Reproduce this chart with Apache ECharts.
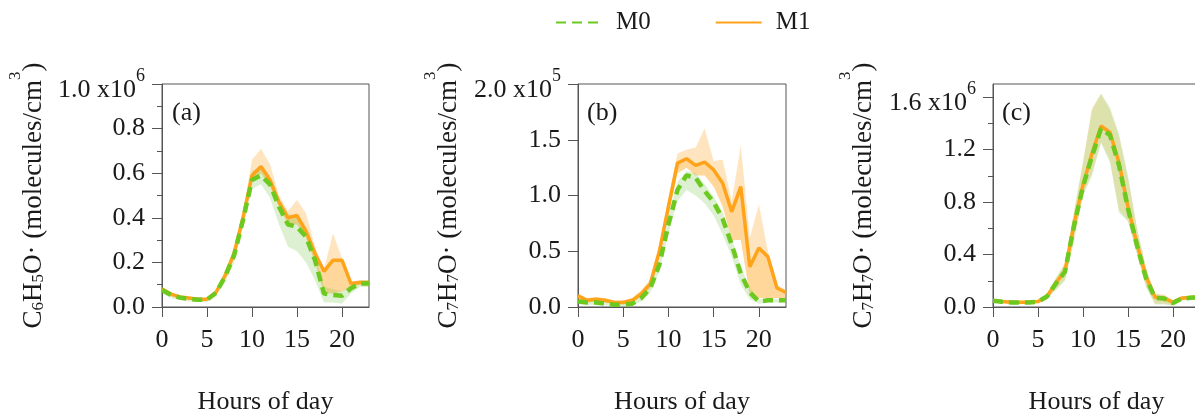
<!DOCTYPE html>
<html><head><meta charset="utf-8">
<script src="https://cdn.jsdelivr.net/npm/echarts@6/dist/echarts.min.js"></script>
<style>html,body{margin:0;padding:0;background:#fff}#c{width:1195px;height:417px}</style>
</head><body><div id="c"></div>
<script>
// ---------- data ----------
const hours = ['0','1','2','3','4','5','6','7','8','9','10','11','12','13','14','15','16','17','18','19','20','21','22','23'];
const seriesNames = ['M0', 'M1'];
const xTitle = 'Hours of day';

// (a) C6H5O·, units 1e6
const a_m0    = [0.076,0.054,0.042,0.036,0.032,0.032,0.064,0.136,0.23,0.39,0.57,0.59,0.55,0.45,0.37,0.36,0.315,0.21,0.06,0.054,0.05,0.084,0.105,0.105];
const a_m0_lo = [0.060,0.040,0.030,0.025,0.022,0.022,0.050,0.110,0.20,0.36,0.53,0.55,0.49,0.37,0.27,0.25,0.20,0.12,0.02,0.02,0.015,0.06,0.09,0.09];
const a_m0_hi = [0.090,0.065,0.050,0.045,0.040,0.040,0.075,0.160,0.25,0.41,0.61,0.63,0.58,0.48,0.42,0.40,0.34,0.24,0.09,0.08,0.07,0.10,0.12,0.12];
const a_m1    = [0.080,0.058,0.045,0.040,0.035,0.035,0.066,0.140,0.24,0.40,0.59,0.63,0.57,0.47,0.40,0.41,0.34,0.24,0.16,0.21,0.21,0.105,0.11,0.11];
const a_m1_lo = [0.070,0.050,0.040,0.035,0.030,0.030,0.060,0.130,0.22,0.38,0.56,0.60,0.54,0.45,0.37,0.37,0.31,0.20,0.06,0.06,0.07,0.09,0.10,0.10];
const a_m1_hi = [0.090,0.065,0.050,0.045,0.040,0.040,0.075,0.160,0.26,0.42,0.66,0.71,0.64,0.50,0.43,0.48,0.42,0.27,0.17,0.33,0.22,0.115,0.12,0.12];
const a_ticks = ['0.0','0.2','0.4','0.6','0.8','1.0'];
const a_minor = [0.1, 0.3, 0.5, 0.7, 0.9];

// (b) C7H7O·, units 1e5
const b_m0    = [0.05,0.04,0.04,0.03,0.02,0.02,0.03,0.08,0.17,0.38,0.74,1.05,1.18,1.16,1.04,0.94,0.79,0.56,0.30,0.13,0.05,0.06,0.06,0.06];
const b_m0_lo = [0.03,0.02,0.02,0.015,0.01,0.01,0.015,0.05,0.13,0.32,0.66,0.95,1.05,1.00,0.93,0.82,0.65,0.45,0.20,0.07,0.03,0.04,0.04,0.04];
const b_m0_hi = [0.07,0.06,0.06,0.05,0.035,0.035,0.045,0.10,0.20,0.42,0.80,1.12,1.22,1.20,1.10,0.99,0.85,0.62,0.36,0.17,0.07,0.07,0.07,0.07];
const b_m1    = [0.10,0.06,0.07,0.06,0.04,0.04,0.06,0.12,0.21,0.50,0.90,1.29,1.33,1.27,1.30,1.23,1.11,0.855,1.08,0.36,0.53,0.45,0.17,0.13];
const b_m1_lo = [0.07,0.04,0.05,0.04,0.03,0.03,0.04,0.09,0.17,0.44,0.82,1.20,1.25,1.18,1.18,1.08,0.90,0.60,0.60,0.10,0.08,0.08,0.08,0.08];
const b_m1_hi = [0.12,0.08,0.09,0.08,0.06,0.06,0.08,0.15,0.25,0.56,0.98,1.38,1.41,1.43,1.60,1.31,1.32,0.95,1.45,0.62,0.92,0.50,0.20,0.15];
const b_ticks = ['0.0','0.5','1.0','1.5','2.0'];

// (c) C7H7O·, units 1e6
const c_m0    = [0.048,0.040,0.035,0.035,0.035,0.040,0.080,0.180,0.27,0.62,0.92,1.15,1.36,1.31,1.08,0.75,0.47,0.22,0.070,0.065,0.030,0.065,0.070,0.075];
const c_m0_lo = [0.035,0.030,0.025,0.025,0.025,0.030,0.060,0.130,0.20,0.50,0.85,1.00,1.25,1.10,0.72,0.65,0.40,0.15,0.020,0.020,0.010,0.050,0.055,0.060];
const c_m0_hi = [0.060,0.050,0.045,0.045,0.045,0.050,0.100,0.220,0.33,0.72,1.10,1.50,1.63,1.52,1.32,1.00,0.60,0.30,0.100,0.090,0.050,0.080,0.085,0.090];
const c_m1    = [0.050,0.042,0.037,0.037,0.037,0.042,0.082,0.185,0.275,0.63,0.93,1.17,1.38,1.33,1.10,0.76,0.48,0.23,0.075,0.068,0.035,0.068,0.073,0.078];
const c_m1_lo = [0.037,0.032,0.027,0.027,0.027,0.032,0.062,0.135,0.21,0.52,0.86,1.02,1.26,1.12,0.74,0.66,0.41,0.16,0.025,0.025,0.015,0.052,0.057,0.062];
const c_m1_hi = [0.062,0.052,0.047,0.047,0.047,0.052,0.102,0.225,0.34,0.73,1.11,1.52,1.62,1.50,1.30,0.98,0.60,0.30,0.105,0.095,0.055,0.082,0.087,0.092];
const c_ticks = ['0.0','0.4','0.8','1.2','1.6'];
const c_minor = [0.2, 0.6, 1.0, 1.4];

// ---------- styles ----------
const FONT = "'Liberation Serif', 'Times New Roman', serif";
const TXT = '#1a1a1a';
const AX = '#555555';
const GREEN = '#6cc91f';
const ORANGE = '#ffa31a';
const GREEN_BAND = 'rgba(120,195,70,0.36)';
const ORANGE_LOW = 'rgba(255,163,26,0.62)';
const ORANGE_HIGH = 'rgba(255,163,26,0.40)';
const ORANGE_C = 'rgba(255,163,26,0.30)';
const TICK_FS = 26;

const panels = [
  { grid: {left:162, top:84, width:207, height:223}, max:1.0, ticks:a_ticks, exp:'6', minorVals:a_minor,
    m0:a_m0, m0lo:a_m0_lo, m0hi:a_m0_hi, m1:a_m1, m1lo:a_m1_lo, m1hi:a_m1_hi, lowColor:ORANGE_LOW, highColor:ORANGE_HIGH,
    sub1:'6', sub2:'5', tag:'(a)', titleX:34, tagX:172 },
  { grid: {left:578, top:84, width:208, height:223}, max:2.0, ticks:b_ticks, exp:'5', minorVals:null,
    m0:b_m0, m0lo:b_m0_lo, m0hi:b_m0_hi, m1:b_m1, m1lo:b_m1_lo, m1hi:b_m1_hi, lowColor:ORANGE_LOW, highColor:ORANGE_HIGH,
    sub1:'7', sub2:'7', tag:'(b)', titleX:449, tagX:587 },
  { grid: {left:993, top:84, width:207, height:223}, max:1.7, ticks:c_ticks, exp:'6', minorVals:c_minor,
    m0:c_m0, m0lo:c_m0_lo, m0hi:c_m0_hi, m1:c_m1, m1lo:c_m1_lo, m1hi:c_m1_hi, lowColor:ORANGE_C, highColor:ORANGE_C,
    sub1:'7', sub2:'7', tag:'(c)', titleX:864, tagX:1002 }
];

const grids = [], xAxes = [], yAxes = [], series = [], graphics = [];
const diff = (a, b) => a.map((v, i) => Math.max(0, v - b[i]));

panels.forEach((p, gi) => {
  grids.push(Object.assign({show:true, borderColor:AX, borderWidth:1, backgroundColor:'transparent',
    containLabel:false, outerBoundsMode:'none'}, p.grid));
  xAxes.push({
    type:'category', gridIndex:gi, data:hours, boundaryGap:false,
    axisLine:{show:true, lineStyle:{color:AX, width:1}},
    axisTick:{show:true, interval:4, length:10, lineStyle:{color:AX}},
    axisLabel:{interval:4, margin:20, fontSize:TICK_FS, fontFamily:FONT, color:TXT},
    splitLine:{show:false},
    name:xTitle, nameLocation:'middle', nameGap:82,
    nameTextStyle:{fontSize:26, fontFamily:FONT, color:TXT}
  });
  const tickVals = p.ticks.map(t => parseFloat(t));
  const yIdx = yAxes.length;
  yAxes.push({
    type:'value', gridIndex:gi, min:0, max:p.max,
    axisLine:{show:true, lineStyle:{color:AX, width:1}},
    axisTick:{show:true, length:10, customValues:tickVals, lineStyle:{color:AX}},
    splitLine:{show:false},
    axisLabel:{
      customValues:tickVals,
      margin:17, fontSize:TICK_FS, fontFamily:FONT, color:TXT,
      formatter:(v) => {
        const i = tickVals.findIndex(t => Math.abs(t - v) < 1e-9);
        if (i < 0) return '';
        if (i === tickVals.length - 1) return '{m|' + p.ticks[i] + ' x10}{s|' + p.exp + '}';
        return p.ticks[i];
      },
      rich:{
        m:{fontSize:TICK_FS, fontFamily:FONT, color:TXT, padding:[12,0,0,0]},
        s:{fontSize:18, fontFamily:FONT, color:TXT, padding:[0,0,15,0]}
      }
    }
  });
  if (p.minorVals) {
    yAxes.push({
      type:'value', gridIndex:gi, min:0, max:p.max, position:'left',
      axisLine:{show:false}, axisLabel:{show:false}, splitLine:{show:false},
      axisTick:{show:true, length:5, customValues:p.minorVals, lineStyle:{color:AX}}
    });
  }
  const base = {type:'line', xAxisIndex:gi, yAxisIndex:yIdx, symbol:'none', silent:true, animation:false};
  const bandLine = {width:0, opacity:0};
  // M1 band: lower -> line, line -> upper
  series.push(Object.assign({}, base, {name:'M1 lo', stack:'m1b'+gi, data:p.m1lo, lineStyle:bandLine}));
  series.push(Object.assign({}, base, {name:'M1 band low', stack:'m1b'+gi, data:diff(p.m1, p.m1lo), lineStyle:bandLine, areaStyle:{color:p.lowColor}}));
  series.push(Object.assign({}, base, {name:'M1 band high', stack:'m1b'+gi, data:diff(p.m1hi, p.m1), lineStyle:bandLine, areaStyle:{color:p.highColor}}));
  // M0 band
  series.push(Object.assign({}, base, {name:'M0 lo', stack:'m0b'+gi, data:p.m0lo, lineStyle:bandLine}));
  series.push(Object.assign({}, base, {name:'M0 band', stack:'m0b'+gi, data:diff(p.m0hi, p.m0lo), lineStyle:bandLine, areaStyle:{color:GREEN_BAND}}));
  // lines
  series.push(Object.assign({}, base, {name:'M1', data:p.m1, z:5, color:ORANGE, lineStyle:{color:ORANGE, width:3.5}}));
  series.push(Object.assign({}, base, {name:'M0', data:p.m0, z:6, color:GREEN, lineStyle:{color:GREEN, width:4.5, type:[10,6]}}));

  // y-axis title
  graphics.push({
    type:'text', x:p.titleX, y:p.grid.top + p.grid.height / 2, rotation:Math.PI / 2,
    style:{
      text:'C{sb|' + p.sub1 + '}H{sb|' + p.sub2 + '}O· (molecules/cm{sp|3})',
      fontSize:27, fontFamily:FONT, fill:TXT, align:'center', verticalAlign:'middle',
      rich:{
        sb:{fontSize:17, fontFamily:FONT, fill:TXT, padding:[10,0,0,0]},
        sp:{fontSize:17, fontFamily:FONT, fill:TXT, padding:[0,0,36,0]}
      }
    }
  });
  graphics.push({
    type:'text', x:p.tagX, y:113,
    style:{text:p.tag, fontSize:26, fontFamily:FONT, fill:TXT, align:'left', verticalAlign:'middle'}
  });
});

const chart = echarts.init(document.getElementById('c'), null, {renderer:'canvas'});
chart.setOption({
  animation:false,
  backgroundColor:'#ffffff',
  legend:{
    data:seriesNames, left:555, top:10, padding:0, itemWidth:46, itemHeight:14, itemGap:64,
    itemStyle:{opacity:0},
    textStyle:{fontSize:25, fontFamily:FONT, color:TXT, padding:[0,0,0,9]}
  },
  grid:grids, xAxis:xAxes, yAxis:yAxes, series:series, graphic:graphics
});
</script>
</body></html>
